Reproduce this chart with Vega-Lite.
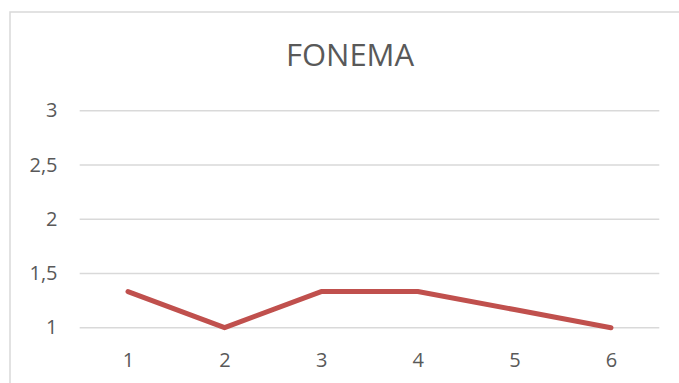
{
  "$schema": "https://vega.github.io/schema/vega-lite/v6.json",
  "autosize": {"type": "none"},
  "padding": {"left": 10, "top": 12, "right": 0, "bottom": 0},
  "width": 680,
  "height": 380,
  "background": "white",
  "config": {
    "view": {"stroke": "#d9d9d9", "strokeWidth": 1.5},
    "font": "Open Sans"
  },
  "title": {
    "text": "FONEMA",
    "fontSize": 31,
    "font": "Open Sans",
    "fontWeight": "normal",
    "color": "#595959",
    "anchor": "middle",
    "offset": -61
  },
  "datasets": {
    "series": [
      {"punto": 1, "valor": 1.333},
      {"punto": 2, "valor": 1},
      {"punto": 3, "valor": 1.333},
      {"punto": 4, "valor": 1.333},
      {"punto": 5, "valor": 1.167},
      {"punto": 6, "valor": 1}
    ],
    "grid": [
      {"desde": 0.5, "hasta": 6.5, "nivel": 1},
      {"desde": 0.5, "hasta": 6.5, "nivel": 1.5},
      {"desde": 0.5, "hasta": 6.5, "nivel": 2},
      {"desde": 0.5, "hasta": 6.5, "nivel": 2.5},
      {"desde": 0.5, "hasta": 6.5, "nivel": 3}
    ]
  },
  "layer": [
    {
      "data": {"name": "grid"},
      "mark": {"type": "rule", "color": "#d9d9d9", "strokeWidth": 1.5},
      "encoding": {
        "x": {"field": "desde", "type": "quantitative", "scale": {"domain": [-0.2215, 6.818], "nice": false, "zero": false},
          "axis": {"values": [1, 2, 3, 4, 5, 6], "format": "d", "grid": false, "ticks": false, "domain": false, "title": null,
            "labelFontSize": 20, "labelColor": "#595959", "labelPadding": 0, "offset": -42, "labelFont": "Open Sans"}},
        "x2": {"field": "hasta"},
        "y": {"field": "nivel", "type": "quantitative", "scale": {"domain": [0.407, 3.911], "nice": false, "zero": false},
          "axis": {"values": [1, 1.5, 2, 2.5, 3], "grid": false, "ticks": false, "domain": false, "title": null,
            "labelExpr": "replace(format(datum.value, '~g'), '.', ',')",
            "labelFontSize": 20, "labelColor": "#595959", "labelPadding": 0, "offset": -47, "labelFont": "Open Sans"}}
      }
    },
    {
      "data": {"name": "series"},
      "mark": {"type": "line", "color": "#c0504d", "strokeWidth": 5, "strokeCap": "round", "strokeJoin": "round"},
      "encoding": {
        "x": {"field": "punto", "type": "quantitative"},
        "y": {"field": "valor", "type": "quantitative"}
      }
    }
  ]
}
